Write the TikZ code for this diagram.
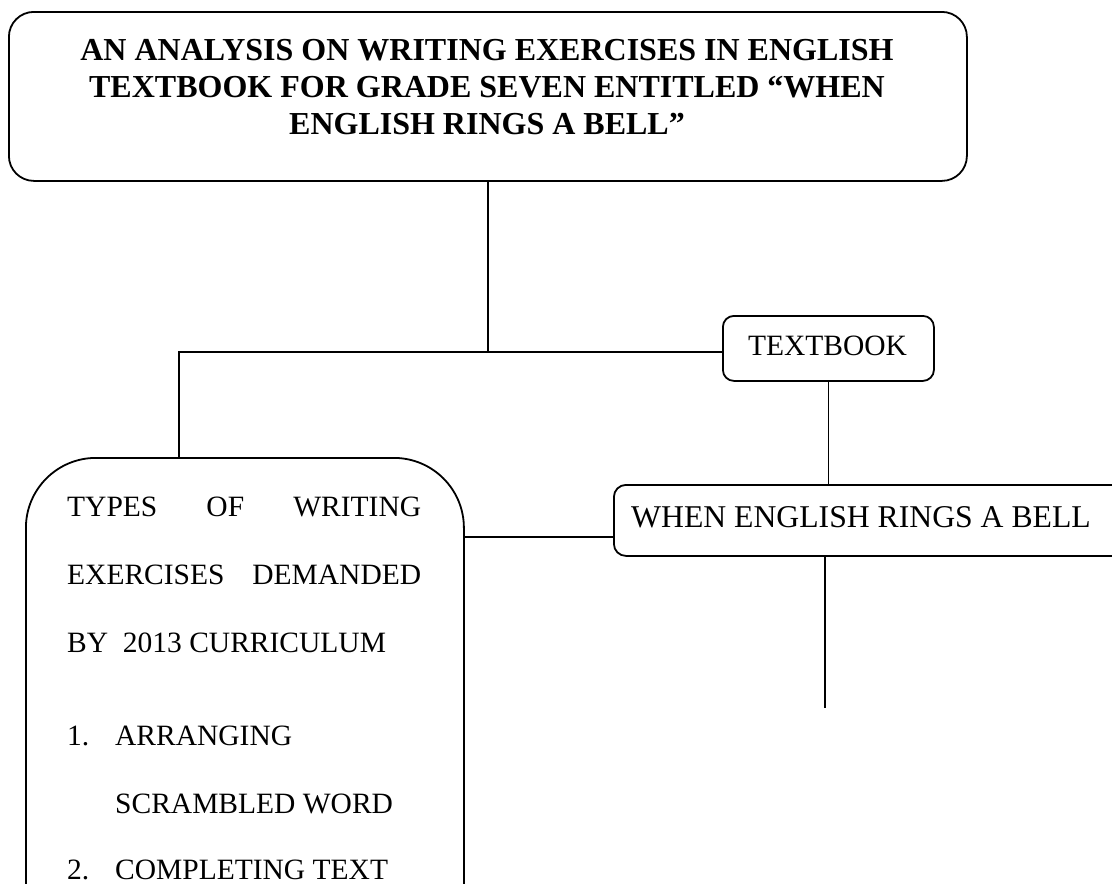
\documentclass[tikz,border=0pt]{standalone}
\usepackage{fontspec}
\setmainfont{Liberation Serif}
\begin{document}
\begin{tikzpicture}[x=1pt,y=-1pt,
  box/.style={draw, line width=1.8pt, rounded corners=#1, inner sep=0pt, anchor=north west},
  conn/.style={line width=1.8pt},
  txt/.style={inner sep=0pt, anchor=base west, font=\fontsize{29.5}{30}\selectfont},
  ttl/.style={inner sep=0pt, anchor=base, font=\fontsize{32}{37}\selectfont\bfseries}]
\useasboundingbox (0,0) rectangle (1112,884);
\clip (0,0) rectangle (1112,884);
% boxes
\node[box=25, minimum width=958pt, minimum height=169pt] (title) at (8,11) {};
\node[box=11, minimum width=211pt, minimum height=65pt] (tb) at (722,315) {};
\node[box=12, minimum width=600pt, minimum height=71pt] (wb) at (613,484) {};
\node[box=70, minimum width=438pt, minimum height=600pt] (lb) at (25,457) {};
% connector points
\coordinate (hub) at (485,352);
\coordinate (lv) at (179,457);
\coordinate (c1) at (463,537);
\coordinate (c2) at (825,708);
\draw[conn] (title.south) -- (title.south |- hub);
\draw[conn] (lv) |- (hub -| tb.west);
\draw[conn] (tb.south) -- (tb.south |- wb.north);
\draw[conn] (c1) -- (c1 -| wb.west);
\draw[conn] (c2 |- wb.south) -- (c2);
% texts
\node[ttl] (t1) at (487,60) {AN ANALYSIS ON WRITING EXERCISES IN ENGLISH};
\node[ttl] (t2) at (487,97) {TEXTBOOK FOR GRADE SEVEN ENTITLED “WHEN};
\node[ttl] (t3) at (487,134) {ENGLISH RINGS A BELL”};
\node[txt, anchor=base] (tbt) at (827.5,355) {TEXTBOOK};
\node[txt, font=\fontsize{31.7}{32}\selectfont] (wbt) at (631,527) {WHEN ENGLISH RINGS A BELL};
\node[txt] (l1) at (67,516) {\hbox to 354pt{TYPES\hfill OF\hfill WRITING}};
\node[txt] (l2) at (67,584) {\hbox to 354pt{EXERCISES\hfill DEMANDED}};
\node[txt] (l3) at (67,652) {BY\ \ 2013 CURRICULUM};
\node[txt] (n1) at (67,745) {1.};
\node[txt] (l4) at (115,745) {ARRANGING};
\node[txt] (l5) at (115,813) {SCRAMBLED WORD};
\node[txt] (n2) at (67,879) {2.};
\node[txt] (l6) at (115,879) {COMPLETING TEXT};
\end{tikzpicture}
\end{document}
